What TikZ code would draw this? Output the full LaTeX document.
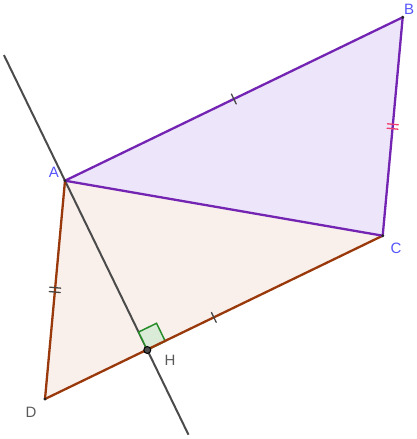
\documentclass[tikz,border=0pt]{standalone}
\usepackage{fontspec}
\setmainfont{Liberation Sans}
\usetikzlibrary{decorations.markings,calc}
\definecolor{purp}{RGB}{116,36,178}
\definecolor{purpfill}{RGB}{237,230,250}
\definecolor{brn}{RGB}{153,56,10}
\definecolor{brnfill}{RGB}{249,240,235}
\definecolor{lblblue}{RGB}{85,85,250}
\definecolor{lblgray}{RGB}{90,90,90}
\definecolor{linegray}{RGB}{75,75,75}
\definecolor{tickgray}{RGB}{70,70,70}
\definecolor{tickpink}{RGB}{240,60,110}
\definecolor{rgreen}{RGB}{40,140,40}
\definecolor{rgfill}{RGB}{218,235,215}
\tikzset{
  single tick/.style={postaction={decorate,decoration={markings,
    mark=at position 0.5 with {\draw[#1,line width=1.3pt] (0,-5.5) -- (0,5.5);}}}},
  double tick/.style={postaction={decorate,decoration={markings,
    mark=at position 0.5 with {\draw[#1,line width=1.3pt] (-2.2,-5.5) -- (-2.2,5.5) (2.2,-5.5) -- (2.2,5.5);}}}},
  purpedge/.style={draw=purp,line width=2.3pt,line cap=round},
  brnedge/.style={draw=brn,line width=2.3pt,line cap=round},
  ptdot/.style={circle,fill=black!85,inner sep=0pt,minimum size=3.2pt},
  lbl/.style={font=\fontsize{15}{15}\selectfont,inner sep=0pt},
}
\begin{document}
\begin{tikzpicture}[x=1pt,y=-1pt]
\useasboundingbox (0,0) rectangle (416,439);
\coordinate (A) at (65,180.7);
\coordinate (B) at (402.7,17.3);
\coordinate (C) at (382.7,235.7);
\coordinate (D) at (45,399);
\coordinate (H) at (147.3,350);
\coordinate (L1) at ($(A)!-0.742!(H)$);
\coordinate (L2) at ($(A)!1.5!(H)$);
% fills
\fill[brnfill] (A) -- (C) -- (D) -- cycle;
\fill[purpfill] (A) -- (B) -- (C) -- cycle;
% line through A and H
\draw[linegray,line width=2pt] (L1) -- (L2);
% right angle mark
\coordinate (RA) at ($(H)!20pt!(A)$);
\coordinate (RC) at ($(H)!20pt!(C)$);
\coordinate (RM) at ($(RA)+(RC)-(H)$);
\filldraw[fill=rgfill,draw=rgreen,line width=1.5pt] (H) -- (RA) -- (RM) -- (RC) -- cycle;
% edges
\draw[brnedge,double tick=tickgray] (A) -- (D);
\draw[brnedge,single tick=tickgray] (D) -- (C);
\draw[purpedge,single tick=tickgray] (A) -- (B);
\draw[purpedge,double tick=tickpink] (B) -- (C);
\draw[purpedge] (C) -- (A);
% points
\node[ptdot] (pA) at (A) {};
\node[ptdot] (pB) at (B) {};
\node[ptdot] (pC) at (C) {};
\node[ptdot] (pD) at (D) {};
\node[circle,fill=black!70,draw=black,line width=1pt,inner sep=0pt,minimum size=7pt] (pH) at (H) {};
% labels
\node[lbl,text=lblblue] (tA) at (54,172) {A};
\node[lbl,text=lblblue] (tB) at (409,9) {B};
\node[lbl,text=lblblue] (tC) at (396,248) {C};
\node[lbl,text=lblgray] (tD) at (31,412) {D};
\node[lbl,text=lblgray] (tH) at (170,360) {H};
\end{tikzpicture}
\end{document}
